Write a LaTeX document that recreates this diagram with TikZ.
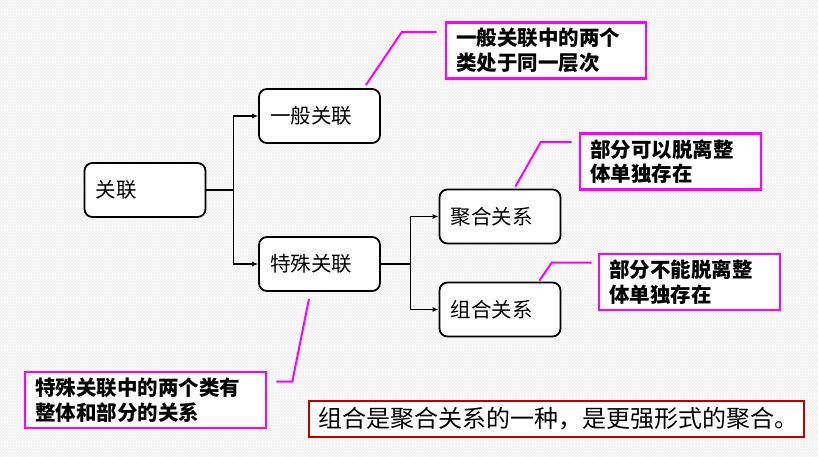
\documentclass[tikz,border=0pt]{standalone}
\usepackage{fontspec}
\usetikzlibrary{arrows.meta,calc,patterns}
\newfontfamily\cjk{Noto Sans CJK SC}
\definecolor{notepink}{RGB}{255,0,255}
\definecolor{sumred}{RGB}{192,0,0}

\begin{document}
\begin{tikzpicture}[%
      x=1pt, y=-1pt,
      box/.style={draw=black, line width=1.8pt, rounded corners=8pt, fill=white,
        minimum height=54pt, inner xsep=11pt, text width=99pt, align=left,
        font=\cjk\fontsize{20.5}{23}\selectfont},
      note/.style={draw=notepink, line width=2.6pt, fill=white, minimum height=56pt,
        inner xsep=10pt, align=left, font=\cjk\bfseries\fontsize{20.5}{24.5}\selectfont},
      link/.style={color=black, line width=1.1pt, -{Latex[length=6pt,width=5pt]}},
      pointer/.style={color=notepink, line width=2pt},
      ]
      \useasboundingbox (0,0) rectangle (818,456);
      \fill [gray!2] (0,0) rectangle (818,456);
      \fill [pattern=north east lines, pattern color=gray!10] (0,0) rectangle (818,456);
      \fill [pattern=north west lines, pattern color=gray!10] (0,0) rectangle (818,456);

      % class boxes
      \node [box] (gl)   at (145,190)   {关联};
      \node [box] (ybgl) at (319.5,116) {一般关联};
      \node [box] (tsgl) at (319.5,264) {特殊关联};
      \node [box] (jhgx) at (500,216.5) {聚合关系};
      \node [box] (zhgx) at (500,309.5) {组合关系};

      % notes
      \node [note, text width=180pt] (note1) at (546,50.5)  {一般关联中的两个\\类处于同一层次};
      \node [note, text width=161pt] (note2) at (670.5,161.5) {部分可以脱离整\\体单独存在};
      \node [note, text width=161pt] (note3) at (689.5,282) {部分不能脱离整\\体单独存在};
      \node [note, text width=221pt] (note4) at (145.5,400) {特殊关联中的两个类有\\整体和部分的关系};
      \node [draw=sumred, line width=1.2pt, fill=white, minimum height=36pt,
        inner xsep=9pt, text width=477pt, align=left,
        font=\cjk\fontsize{24}{27}\selectfont] (summary) at (556.5,419)
        {组合是聚合关系的一种，是更强形式的聚合。};

      % tree connectors
      \coordinate (fork1) at ($(gl.east)+(27,0)$);
      \draw [color=black, line width=1.1pt] (gl.east) -- (fork1);
      \draw [link] (fork1) |- (ybgl.west);
      \draw [link] (fork1) |- (tsgl.west);

      \coordinate (fork2) at ($(tsgl.east)+(30,0)$);
      \draw [color=black, line width=1.1pt] (tsgl.east) -- (fork2);
      \draw [link] (fork2) |- (jhgx.west);
      \draw [link] (fork2) |- (zhgx.west);

      % note pointers
      \coordinate (p1) at ($(note1.north west)+(-8,11)$);
      \coordinate (q1) at ($(ybgl.north east)+(-15,-3)$);
      \draw [pointer] (p1) -- ++(-35,0) -- (q1);

      \coordinate (p2) at ($(note2.north west)+(-7,10)$);
      \coordinate (q2) at ($(jhgx.north east)+(-46,-2)$);
      \draw [pointer] (p2) -- ++(-31,0) -- (q2);

      \coordinate (p3) at ($(note3.north west)+(-6,10)$);
      \coordinate (q3) at ($(zhgx.north east)+(-22,-1)$);
      \draw [pointer] (p3) -- ++(-40,0) -- (q3);

      \coordinate (p4) at ($(note4.north east)+(9,11)$);
      \coordinate (q4) at ($(tsgl.south)+(-10.5,7)$);
      \draw [pointer] (p4) -- ++(16,0) -- (q4);
\end{tikzpicture}
\end{document}
